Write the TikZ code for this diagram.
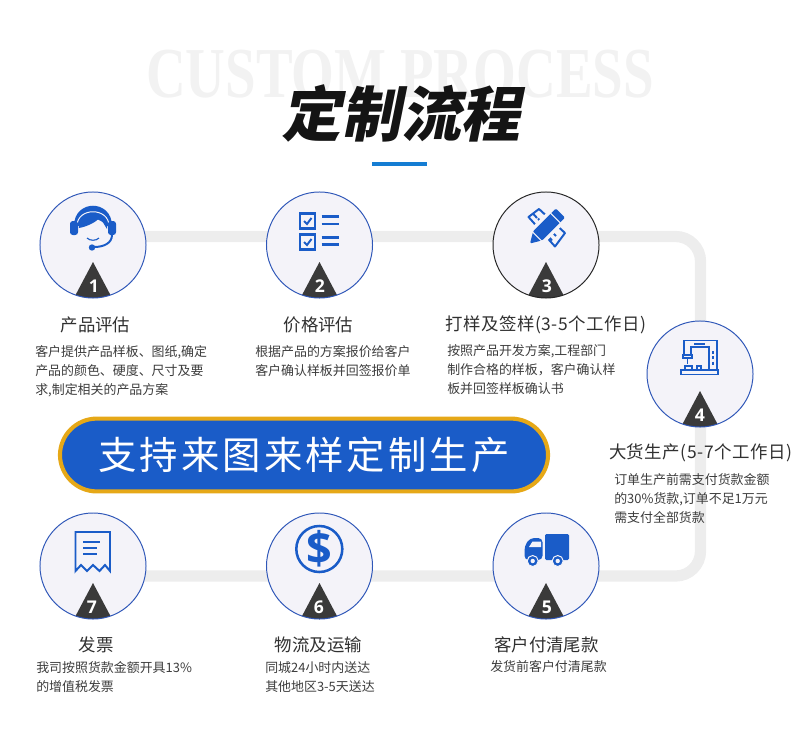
\documentclass[tikz,border=0pt]{standalone}
\usepackage{fontspec}
\usetikzlibrary{positioning}
\setmainfont{Noto Sans CJK SC}
\newfontfamily\cjk{Noto Sans CJK SC}
\newfontfamily\cjktitle[FakeSlant=0.2]{Noto Sans CJK SC}
\newfontfamily\bgserif{Liberation Serif}
\newfontfamily\numfont{Open Sans}
\definecolor{stepblue}{HTML}{2F57B8}
\definecolor{stepbg}{HTML}{F4F3F9}
\definecolor{icono}{HTML}{1A5CC8}
\definecolor{oscuro}{HTML}{3A3A3A}
\definecolor{pista}{HTML}{EDEDED}
\definecolor{naranja}{HTML}{E6A817}
\definecolor{texto}{HTML}{3C3C3C}

\begin{document}
\begin{tikzpicture}[x=0.025cm, y=-0.025cm]

	\tikzstyle{nodo}=[circle, draw=stepblue, fill=stepbg, line width=0.7pt, minimum size=2.65cm, inner sep=0pt,
		path picture={\fill[oscuro, shift={(path picture bounding box.center)}] (0,17) -- (27,68) -- (-27,68) -- cycle;}]
	\tikzstyle{num}=[text=white, font=\numfont\bfseries\fontsize{12.5}{12.5}\selectfont, inner sep=0pt]
	\tikzstyle{titulo}=[text=texto!80!black, font=\cjk\fontsize{12.4}{15}\selectfont, inner sep=0pt]
	\tikzstyle{titulolargo}=[text=texto!80!black, font=\cjk\addfontfeature{LetterSpace=3}\fontsize{12.4}{15}\selectfont, inner sep=0pt]
	\tikzstyle{cuerpo}=[text=texto, anchor=north west, align=left, inner sep=0pt, font=\cjk\fontsize{9.2}{13.5}\selectfont]
	\tikzstyle{trazo}=[icono, line width=1.4pt]
	\tikzstyle{lista}=[icono, line width=1.9pt]

	\useasboundingbox (0,0) rectangle (800,736);

	\coordinate (t_1) at (93,236.5);
	\coordinate (t_2) at (700.5,236.5);
	\coordinate (t_3) at (700.5,576);
	\coordinate (t_4) at (93,576);

	\draw[pista, line width=8pt, rounded corners=0.62cm] (t_1) -- (t_2) -- (t_3) -- (t_4); % BANDA

	\node[text=black!5, font=\bgserif\bfseries\fontsize{51}{51}\selectfont, xscale=0.767, transform shape, inner sep=0pt] (fondo) at (400,74) {CUSTOM PROCESS};
	\node[text=black!92, font=\cjktitle\bfseries\fontsize{42.5}{45}\selectfont, inner sep=0pt] (cabecera) at (401,113) {定制流程};
	\fill[icono!80!cyan] (372,162) rectangle (427,165.5);

	\node[nodo] (c_1) at (93,245) {};
	\node[nodo] (c_2) at (319.5,245) {};
	\node[nodo, draw=black!85] (c_3) at (546,245) {};
	\node[nodo] (c_4) at (700,374) {};
	\node[nodo] (c_5) at (546,566) {};
	\node[nodo] (c_6) at (319.5,566) {};
	\node[nodo] (c_7) at (93,566) {};

	\node[num] (n_1) at (94,286) {1};
	\node[num] (n_2) at (320,286) {2};
	\node[num] (n_3) at (547,286) {3};
	\node[num] (n_4) at (700,415) {4};
	\node[num] (n_5) at (547,607) {5};
	\node[num] (n_6) at (319,607) {6};
	\node[num] (n_7) at (92,607) {7};

	% AURICULARES
	\fill[icono] (74,226) .. controls (74,199) and (112,199) .. (112,226) -- cycle;
	\fill[stepbg] (93,232) ellipse (14.5 and 13);
	\fill[icono] (79,228) .. controls (85,227) and (96,223) .. (100,217) .. controls (103,222) and (105,226) .. (107,229) .. controls (109,218) and (103,213) .. (93,213) .. controls (84,213) and (77,218) .. (79,228) -- cycle;
	\draw[stepbg, line width=0.7pt] (77,226) .. controls (77,207) and (109,207) .. (109,226);
	\fill[icono, rounded corners=2pt] (70,221) rectangle (78,235);
	\fill[icono, rounded corners=2pt] (108,221) rectangle (116,235);
	\draw[trazo] (112,235) .. controls (112,243) and (104,247) .. (94,247);
	\fill[icono] (92,247.5) circle (3.2);
	\draw[icono, line width=0.8pt] (87,238) .. controls (90,241) and (96,241) .. (99,238);

	% LISTA
	\draw[lista] (300,213.5) rectangle (315,228.5);
	\draw[lista] (300,234.5) rectangle (315,249.5);
	\draw[trazo] (304,221) -- (307,224) -- (311.5,218);
	\draw[trazo] (304,242) -- (307,245) -- (311.5,239);
	\draw[lista] (321.5,216.5) -- (339,216.5);
	\draw[lista] (321.5,224) -- (339,224);
	\draw[lista] (321.5,237.5) -- (339,237.5);
	\draw[lista] (321.5,244.5) -- (339,244.5);

	% REGLA Y LAPIZ
	\draw[trazo, line join=round] (528.5,217) -- (539,209) -- (565,233) -- (555,246.5) -- cycle;
	\draw[trazo] (533,213.5) -- (537,218);
	\draw[trazo] (538,218.5) -- (541,222);
	\draw[trazo] (552,232) -- (556,236);
	\draw[trazo] (549,237) -- (552,240.5);
	\begin{scope}[shift={(530,243.5)}, rotate=45]
		\fill[stepbg] (-2,0) -- (10,-10) -- (46,-10) -- (46,10) -- (10,10) -- cycle;
		\fill[icono, rounded corners=1pt] (0,0) -- (11,-6.5) -- (43,-6.5) -- (43,6.5) -- (11,6.5) -- cycle;
		\draw[stepbg, line width=0.7pt] (10,-7) -- (10,7);
		\draw[stepbg, line width=0.7pt] (36,-7) -- (36,7);
	\end{scope}

	% MAQUINA
	\draw[trazo, line width=1.1pt] (681,370) rectangle (718,374.5);
	\draw[trazo, line width=1.1pt] (684,355) -- (684,340.5) -- (717,340.5) -- (717,370);
	\draw[trazo, line width=1.1pt] (691,355) -- (691,347) -- (709,347) -- (709,370);
	\draw[trazo, line width=1.1pt] (683,355) rectangle (692,358);
	\draw[trazo, line width=1.1pt] (687.5,358) -- (687.5,364);
	\draw[trazo, line width=1.1pt] (685,370) -- (685,366) -- (692,366) -- (692,370);
	\draw[trazo, line width=1.1pt] (697,370) -- (697,366) -- (701,366) -- (701,370);
	\draw[trazo, line width=0.9pt] (694,344) -- (705,344);
	\draw[icono, line width=1.2pt, dash pattern=on 2.2pt off 1.6pt] (713,351) -- (713,366);

	% CAMION
	\fill[icono, rounded corners=1pt] (545,534) rectangle (569,560);
	\fill[icono, rounded corners=3pt] (524.5,560) -- (524.5,546) -- (530,538) -- (542.5,538) -- (542.5,560) -- cycle;
	\fill[stepbg] (529,547) -- (532.5,541.5) -- (541,541.5) -- (541,547) -- cycle;
	\fill[icono, draw=stepbg, line width=0.7pt] (532.7,561) circle (5.5);
	\fill[stepbg] (532.7,561) circle (2.2);
	\fill[icono, draw=stepbg, line width=0.7pt] (557.7,561) circle (5.5);
	\fill[stepbg] (557.7,561) circle (2.2);

	% DOLAR
	\draw[icono, line width=1.8pt] (319.3,549) circle (23);
	\node[text=icono, inner sep=0pt, font=\numfont\bfseries\fontsize{32}{32}\selectfont] (dolar) at (319.3,549) {\$};

	% RECIBO
	\draw[trazo, line join=miter] (75.5,571) -- (75.5,532) -- (110,532) -- (110,571) -- (105,565) -- (99.5,571) -- (93,565) -- (87,571) -- (81,565) -- cycle;
	\draw[trazo, line width=1.2pt] (83,542.3) -- (100,542.3);
	\draw[trazo, line width=1.2pt] (83,548.3) -- (97.3,548.3);
	\draw[trazo, line width=1.2pt] (83,554.3) -- (96.7,554.3);

	% BANNER
	\node[draw=naranja, fill=icono, line width=2.9pt, rounded corners=0.92cm, minimum width=12.2cm, minimum height=1.82cm, inner sep=0pt,
		text=white, font=\cjk\addfontfeature{LetterSpace=8}\fontsize{27.3}{30}\selectfont] (banner) at (304,455) {支持来图来样定制生产};

	\node[titulo] (h_1) at (95.5,325) {产品评估};
	\node[titulo] (h_2) at (318.5,325) {价格评估};
	\node[titulolargo] (h_3) at (546,325) {打样及签样(3-5个工作日)};
	\node[titulolargo] (h_4) at (700.5,453) {大货生产(5-7个工作日)};
	\node[titulo] (h_5) at (546.5,645) {客户付清尾款};
	\node[titulo] (h_6) at (318.5,645) {物流及运输};
	\node[titulo] (h_7) at (96,645) {发票};

	\node[cuerpo] (b_1) at (35,345.5) {客户提供产品样板、图纸,确定\\产品的颜色、硬度、尺寸及要\\求,制定相关的产品方案};
	\node[cuerpo] (b_2) at (255,345.5) {根据产品的方案报价给客户\\客户确认样板并回签报价单};
	\node[cuerpo] (b_3) at (447,344.5) {按照产品开发方案,工程部门\\制作合格的样板，客户确认样\\板并回签样板确认书};
	\node[cuerpo] (b_4) at (614,473.5) {订单生产前需支付货款金额\\的30\%货款,订单不足1万元\\需支付全部货款};
	\node[cuerpo] (b_5) at (490,660.5) {发货前客户付清尾款};
	\node[cuerpo] (b_6) at (265,661) {同城24小时内送达\\其他地区3-5天送达};
	\node[cuerpo] (b_7) at (36,661) {我司按照货款金额开具13\%\\的增值税发票};

\end{tikzpicture}
\end{document}
